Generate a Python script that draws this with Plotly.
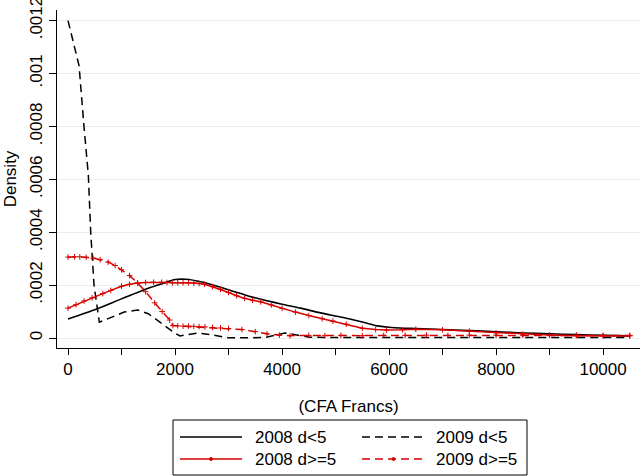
import plotly.graph_objects as go

# ---------------- data ----------------
x_2008_lt5 = [0, 500, 1000, 1500, 1800, 2000, 2200, 2500, 2800, 3100, 3400, 3700, 4000, 4350,
              4650, 4950, 5270, 5550, 5780, 6000, 6200, 6500, 7000, 7500, 8000, 8500, 9000,
              9500, 10000, 10500]
y_2008_lt5 = [0.000072, 0.000107, 0.000148, 0.000188, 0.000208, 0.000221, 0.000222, 0.000212,
              0.000195, 0.000176, 0.000157, 0.000142, 0.000128, 0.000113, 0.000098, 0.000085,
              0.000072, 0.000058, 0.000046, 0.000041, 0.000038, 0.000036, 0.000032, 0.000028,
              0.000024, 0.000019, 0.000016, 0.000013, 0.000010, 0.000008]

x_2009_lt5 = [0, 100, 206, 300, 380, 425, 486, 585, 800, 1050, 1300, 1500, 1750, 2000, 2093,
              2250, 2430, 2700, 2990, 3400, 3700, 4055, 4300, 4520, 5000, 6000, 7000, 8000,
              9000, 10500]
y_2009_lt5 = [0.0012, 0.00112, 0.00103, 0.000796, 0.000615, 0.000396, 0.0002, 0.00006,
              0.000078, 0.000098, 0.000106, 0.000092, 0.000055, 0.000018, 0.000008, 0.000014,
              0.000019, 0.000012, 0.000001, 0.000001, 0.000003, 0.000019, 0.00001, 0.000003,
              0.000002, 0.000002, 0.000002, 0.000002, 0.000002, 0.000002]

x_2008_ge5 = [0, 150, 300, 450, 650, 800, 1000, 1150, 1300, 1450, 1600, 1750, 1850, 1950, 2050,
              2150, 2250, 2350, 2450, 2550, 2700, 2850, 3000, 3150, 3300, 3450, 3600, 3800, 4000,
              4250, 4500, 4750, 4950, 5200, 5500, 5750, 5950, 6250, 6500, 7000, 7500, 8000,
              8500, 9000, 9500, 10000, 10500]
y_2008_ge5 = [0.000113, 0.000126, 0.000140, 0.000152, 0.000168, 0.000180, 0.000196, 0.000203,
              0.000208, 0.000210, 0.000211, 0.000211, 0.000210, 0.000209, 0.000209, 0.000209,
              0.000209, 0.000208, 0.000206, 0.000203, 0.000194, 0.000184, 0.000172, 0.000160,
              0.000150, 0.000143, 0.000137, 0.000125, 0.000112, 0.000098, 0.000085, 0.000073,
              0.000064, 0.000052, 0.000037, 0.000032, 0.000030, 0.000031, 0.000033, 0.000031,
              0.000026, 0.000020, 0.000015, 0.000011, 0.000009, 0.000008, 0.000008]

x_2009_ge5 = [0, 120, 220, 340, 470, 600, 750, 880, 1000, 1150, 1300, 1450, 1620, 1760, 1900,
              1960, 2050, 2150, 2250, 2350, 2450, 2560, 2700, 2850, 3000, 3250, 3500, 3720,
              3950, 4150, 4500, 4800, 5100, 5500, 5900, 6300, 6700, 7100, 7500, 8000, 8500,
              9000, 9500, 10000, 10500]
y_2009_ge5 = [0.000306, 0.000307, 0.000307, 0.000305, 0.000302, 0.000296, 0.000287, 0.000274,
              0.000258, 0.000236, 0.000208, 0.000175, 0.000133, 0.000100, 0.000068, 0.000047,
              0.000046, 0.000045, 0.000045, 0.000044, 0.000043, 0.000042, 0.000040, 0.000038,
              0.000036, 0.000032, 0.000024, 0.000016, 0.000011, 0.000009, 0.000010, 0.000009,
              0.000010, 0.000009, 0.000010, 0.000010, 0.000011, 0.000010, 0.000011, 0.000011,
              0.000011, 0.000011, 0.000011, 0.000010, 0.000010]

x_ticks = [0, 2000, 4000, 6000, 8000, 10000]
x_tick_labels = ["0", "2000", "4000", "6000", "8000", "10000"]
y_ticks = [0, 0.0002, 0.0004, 0.0006, 0.0008, 0.001, 0.0012]
y_tick_labels = ["0", ".0002", ".0004", ".0006", ".0008", ".001", ".0012"]
legend_names = ["2008 d<5", "2009 d<5", "2008 d>=5", "2009 d>=5"]

# ---------------- style ----------------
FONT = "Liberation Sans, Arial, Helvetica, sans-serif"
FS = 17
RED = "rgb(215,0,0)"
BLACK = "black"
DASH = "8px,5px"
W, H = 643, 476
ML, MR, MT, MB = 57, 3, 10, 128
PW, PH = W - ML - MR, H - MT - MB


def px_x(p):
    return (p - ML) / PW


def px_y(p):
    return (H - MB - p) / PH


fig = go.Figure()
fig.add_trace(go.Scatter(x=x_2008_lt5, y=y_2008_lt5, mode="lines", name=legend_names[0],
                         line=dict(color=BLACK, width=1.6, shape="spline", smoothing=0.6)))
fig.add_trace(go.Scatter(x=x_2009_lt5, y=y_2009_lt5, mode="lines", name=legend_names[1],
                         line=dict(color=BLACK, width=1.5, dash=DASH)))
fig.add_trace(go.Scatter(x=x_2008_ge5, y=y_2008_ge5, mode="lines+markers", name=legend_names[2],
                         line=dict(color=RED, width=1.5),
                         marker=dict(symbol="cross-thin", size=4, color=RED,
                                     line=dict(color=RED, width=1))))
fig.add_trace(go.Scatter(x=x_2009_ge5, y=y_2009_ge5, mode="lines+markers", name=legend_names[3],
                         line=dict(color=RED, width=1.5, dash=DASH),
                         marker=dict(symbol="cross-thin", size=4, color=RED,
                                     line=dict(color=RED, width=1))))

# ---------------- manual legend ----------------
shapes = [dict(type="rect", xref="paper", yref="paper",
               x0=px_x(173), x1=px_x(527), y0=px_y(475), y1=px_y(420),
               line=dict(color="black", width=1), fillcolor="white")]
annotations = []
entries = [
    (legend_names[0], BLACK, None, 180, 242, 253, 437, False),
    (legend_names[1], BLACK, "dash", 362, 425, 434, 437, False),
    (legend_names[2], RED, None, 180, 242, 253, 459, True),
    (legend_names[3], RED, "dash", 362, 425, 434, 459, True),
]
for name, col, dash, lx0, lx1, tx, ly, mark in entries:
    shapes.append(dict(type="line", xref="paper", yref="paper",
                       x0=px_x(lx0), x1=px_x(lx1), y0=px_y(ly), y1=px_y(ly),
                       line=dict(color=col, width=1.5, dash=DASH if dash else "solid")))
    if mark:
        cx = (lx0 + lx1) / 2
        shapes.append(dict(type="circle", xref="paper", yref="paper",
                           x0=px_x(cx - 1.5), x1=px_x(cx + 1.5),
                           y0=px_y(ly + 1.5), y1=px_y(ly - 1.5),
                           line=dict(color=col, width=1), fillcolor=col))
    annotations.append(dict(text=name, xref="paper", yref="paper", x=px_x(tx), y=px_y(ly),
                            xanchor="left", yanchor="middle", showarrow=False,
                            font=dict(family=FONT, size=FS, color="black")))

fig.update_layout(
    width=W, height=H,
    margin=dict(l=ML, r=MR, t=MT, b=MB, pad=0, autoexpand=False),
    paper_bgcolor="white", plot_bgcolor="white",
    showlegend=False,
    font=dict(family=FONT, size=FS, color="black"),
    shapes=shapes, annotations=annotations,
    xaxis=dict(range=[-206, 10690], tickvals=x_ticks, ticktext=x_tick_labels,
               ticks="outside", ticklen=6, automargin=False, ticklabeloverflow="allow",
               tickcolor="black", showline=True, linecolor="black", linewidth=1,
               showgrid=False, zeroline=False,
               minor=dict(ticks="outside", dtick=1000, tick0=0, ticklen=6, tickcolor="black",
                          showgrid=False),
               title=dict(text="(CFA Francs)", standoff=21, font=dict(size=FS))),
    yaxis=dict(range=[-0.0000377, 0.00124], tickvals=y_ticks, ticktext=y_tick_labels,
               tickangle=-90, ticks="outside", ticklen=7, tickcolor="black", automargin=False,
               ticklabeloverflow="allow",
               showline=True, linecolor="black", linewidth=1,
               showgrid=True, gridcolor="#E4EDEF", gridwidth=1, zeroline=False,
               title=dict(text="Density", standoff=6, font=dict(size=FS))),
)

fig.write_html("out.html", config={"displayModeBar": False},
               post_script="document.body.style.margin='0';document.body.style.overflow='hidden';")
